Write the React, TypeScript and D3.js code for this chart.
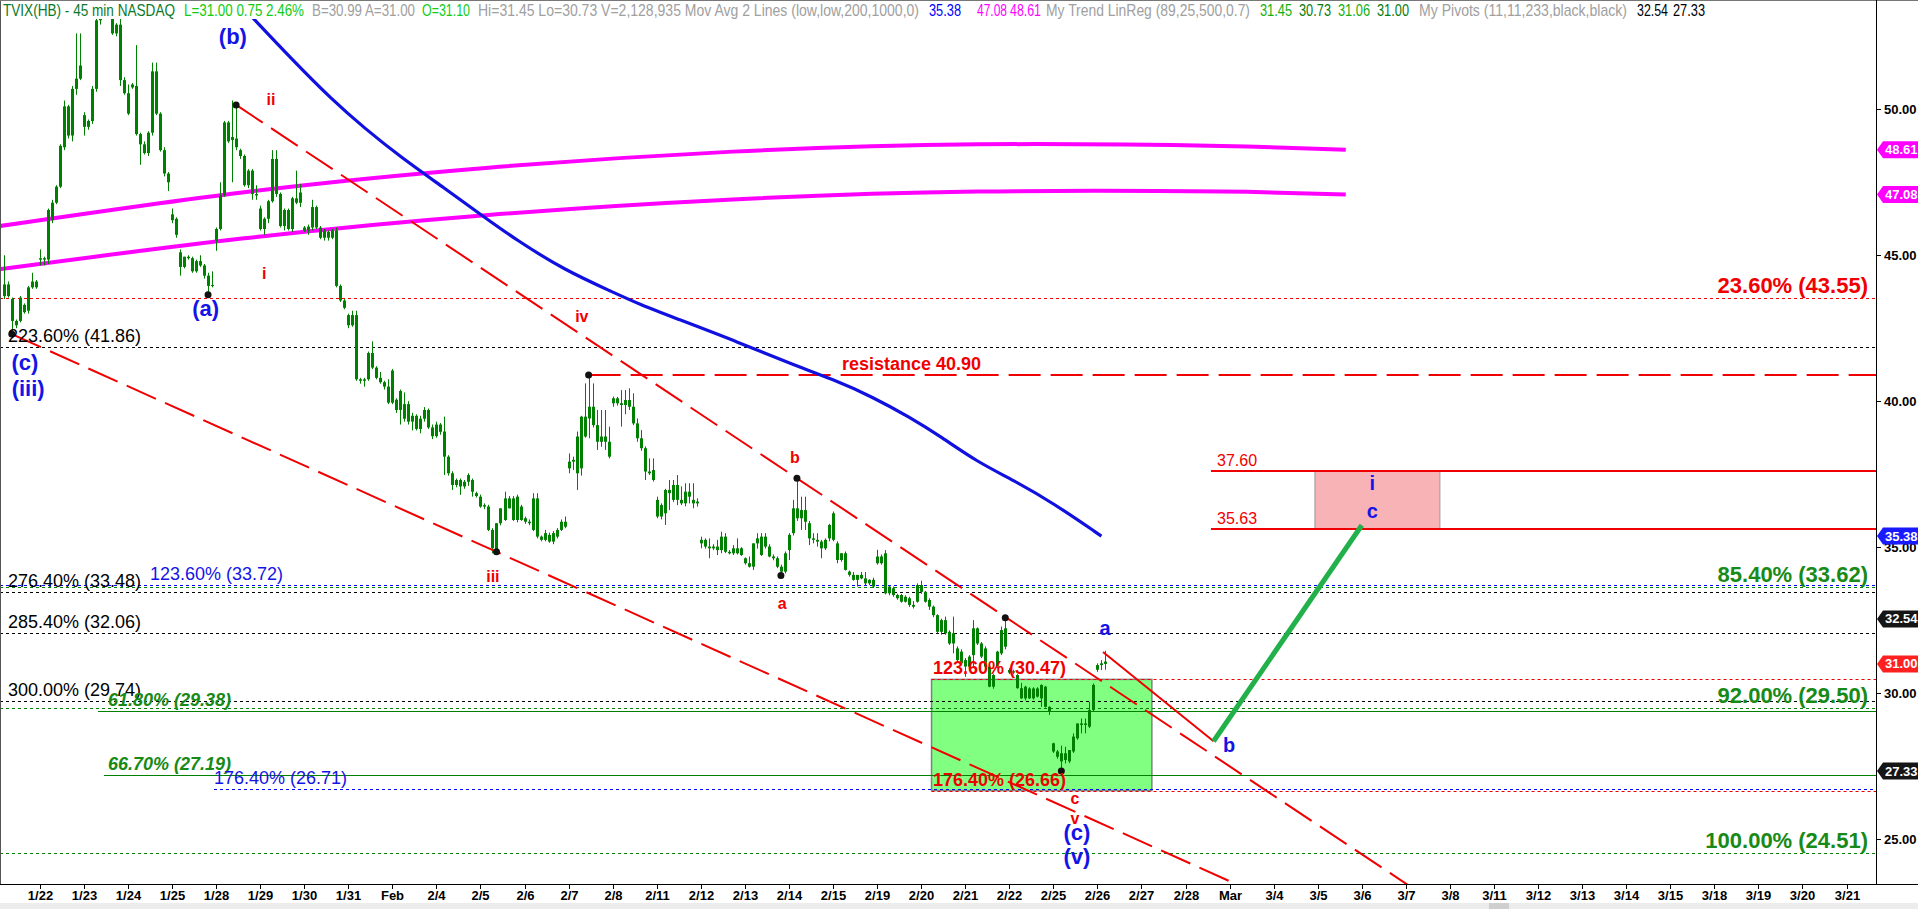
import React from 'react';
import * as d3 from 'd3';

const W = 1918;
const H = 909;

// trading days shown on the time axis (bar 9 is the first 45-min bar of 1/22, 11 bars a day)
const dayLabels = [
  '1/22', '1/23', '1/24', '1/25', '1/28', '1/29', '1/30', '1/31', 'Feb', '2/4', '2/5', '2/6', '2/7', '2/8',
  '2/11', '2/12', '2/13', '2/14', '2/15', '2/19', '2/20', '2/21', '2/22', '2/25', '2/26', '2/27', '2/28',
  'Mar', '3/4', '3/5', '3/6', '3/7', '3/8', '3/11', '3/12', '3/13', '3/14', '3/15', '3/18', '3/19', '3/20', '3/21',
];

// 45 min bars: [open, high, low, close]
const bars: number[][] = [
  // 1/18
  [43.6, 45.0, 43.5, 44.0], [44.0, 44.1, 43.55, 43.6], [43.5, 43.55, 42.3, 42.75], [42.75, 42.8, 42.5, 42.6],
  [42.75, 43.6, 42.7, 43.55], [43.3, 43.35, 43.0, 43.05], [43.1, 43.95, 43.0, 43.9], [43.9, 44.4, 43.85, 44.1],
  [44.1, 44.15, 43.85, 43.9],
  // 1/22
  [44.85, 45.2, 44.65, 44.9], [44.9, 44.95, 44.65, 44.85], [44.85, 46.6, 44.7, 46.55], [46.2, 46.9, 46.1, 46.8],
  [46.8, 47.4, 46.75, 47.35], [47.35, 48.8, 47.3, 48.75], [48.7, 50.3, 48.6, 50.1], [50.1, 50.15, 49.0, 49.1],
  [49.1, 50.8, 48.9, 50.7], [50.7, 52.6, 50.5, 51.05], [51.05, 52.6, 51.0, 51.5],
  // 1/23
  [49.8, 49.9, 49.1, 49.4], [49.4, 49.65, 49.3, 49.6], [49.6, 50.8, 49.5, 50.7], [50.7, 53.1, 50.6, 53.05],
  [53.05, 54.2, 52.9, 54.0], [54.0, 54.6, 53.6, 54.3], [54.3, 54.5, 53.4, 53.6], [53.2, 53.6, 52.55, 52.6],
  [52.6, 52.95, 52.5, 52.9], [52.9, 53.2, 50.8, 51.0], [51.0, 51.1, 50.5, 50.55],
  // 1/24
  [50.55, 50.85, 49.8, 49.85], [50.85, 50.9, 50.7, 50.75], [50.8, 52.2, 49.1, 49.15], [49.15, 49.2, 48.1, 48.8],
  [48.8, 48.9, 48.45, 48.5], [48.5, 49.25, 48.4, 49.2], [49.2, 51.6, 49.1, 51.3], [51.3, 51.6, 49.8, 49.85],
  [49.85, 49.9, 48.55, 48.6], [48.6, 48.7, 47.7, 47.8], [47.8, 47.85, 47.2, 47.5],
  // 1/25
  [46.4, 46.6, 46.1, 46.2], [46.25, 46.3, 45.6, 45.7], [45.1, 45.2, 44.3, 44.6], [44.6, 44.95, 44.55, 44.95],
  [44.95, 45.0, 44.85, 44.9], [44.9, 44.95, 44.4, 44.45], [44.45, 44.85, 44.4, 44.8], [44.8, 45.0, 44.6, 44.65],
  [44.65, 44.7, 44.2, 44.3], [44.3, 44.4, 43.65, 43.95], [43.95, 44.45, 43.9, 43.98],
  // 1/28
  [45.5, 45.95, 45.15, 45.9], [45.9, 47.5, 45.85, 47.05], [47.05, 49.6, 47.0, 49.55], [49.55, 49.6, 48.85, 48.9],
  [48.95, 50.3, 47.5, 49.05], [49.0, 50.15, 48.6, 48.7], [48.6, 48.65, 48.3, 48.4], [48.4, 48.45, 47.35, 47.4],
  [47.4, 47.95, 47.3, 47.9], [47.9, 47.95, 46.9, 47.1], [47.1, 47.4, 46.9, 47.05],
  // 1/29
  [46.6, 46.7, 45.85, 45.9], [45.9, 46.3, 45.7, 46.25], [46.25, 46.9, 46.1, 46.85], [46.85, 48.6, 46.8, 48.3],
  [48.3, 48.6, 47.0, 47.1], [47.1, 47.15, 45.95, 46.0], [46.0, 46.6, 45.85, 46.55], [46.55, 46.6, 45.85, 45.9],
  [45.9, 47.0, 45.8, 46.95], [46.95, 47.9, 46.75, 46.8], [46.8, 47.45, 46.65, 47.15],
  // 1/30
  [45.95, 46.0, 45.8, 45.85], [45.85, 46.05, 45.7, 45.98], [45.95, 46.9, 45.85, 46.65], [46.65, 46.7, 45.9, 45.95],
  [45.95, 46.0, 45.55, 45.6], [45.6, 45.9, 45.5, 45.85], [45.8, 45.85, 45.5, 45.6], [45.6, 45.9, 45.55, 45.85],
  [45.85, 45.95, 43.9, 43.95], [43.95, 44.0, 43.4, 43.45], [43.45, 43.5, 43.15, 43.2],
  // 1/31
  [42.95, 43.0, 42.5, 42.6], [42.6, 43.1, 42.55, 42.95], [42.95, 43.1, 40.7, 40.75], [40.75, 40.8, 40.6, 40.7],
  [40.7, 40.8, 40.5, 40.75], [40.75, 41.7, 40.7, 41.65], [41.65, 42.05, 41.1, 41.15], [41.15, 41.2, 40.75, 40.8],
  [40.8, 41.0, 40.6, 40.65], [40.65, 40.7, 40.4, 40.5], [40.5, 40.75, 39.9, 39.95],
  // Feb 1
  [39.95, 41.1, 39.9, 41.05], [40.05, 40.1, 39.6, 39.7], [39.7, 40.4, 39.2, 40.35], [39.4, 40.3, 39.3, 39.9],
  [39.9, 40.0, 39.2, 39.3], [39.3, 39.6, 39.0, 39.5], [39.5, 39.55, 39.0, 39.05], [39.05, 39.5, 38.9, 39.4],
  [39.4, 39.8, 39.3, 39.7], [39.7, 39.75, 39.05, 39.1], [39.1, 39.2, 38.7, 38.8],
  // 2/4
  [38.8, 39.3, 38.75, 39.2], [39.2, 39.25, 38.85, 38.95], [38.96, 39.47, 37.47, 38.1], [38.1, 38.15, 37.45, 37.53],
  [37.53, 37.6, 36.96, 37.13], [37.13, 37.35, 37.05, 37.3], [37.3, 37.35, 36.79, 37.08], [37.08, 37.3, 37.0, 37.24],
  [37.24, 37.53, 37.1, 37.47], [37.3, 37.35, 36.73, 36.9], [36.85, 36.9, 36.7, 36.75],
  // 2/5
  [36.73, 36.8, 36.35, 36.39], [36.39, 36.5, 36.3, 36.44], [36.39, 36.45, 35.55, 35.59], [35.59, 35.65, 34.79, 34.96],
  [34.9, 35.82, 34.84, 35.82], [35.82, 36.33, 35.75, 36.33], [35.93, 36.9, 35.9, 36.67], [36.67, 36.75, 36.33, 36.33],
  [36.67, 36.75, 35.9, 35.93], [35.93, 36.8, 35.85, 36.73], [36.39, 36.45, 35.9, 35.93],
  // 2/6
  [35.99, 36.05, 35.8, 35.87], [35.87, 35.95, 35.75, 35.82], [35.59, 36.85, 35.55, 36.67], [36.67, 36.85, 35.3, 35.36],
  [35.36, 35.4, 35.2, 35.25], [35.25, 35.59, 35.2, 35.48], [35.42, 35.5, 35.15, 35.19], [35.19, 35.55, 35.1, 35.48],
  [35.36, 35.65, 35.3, 35.59], [35.59, 35.95, 35.55, 35.87], [35.7, 36.05, 35.65, 35.87],
  // 2/7
  [37.7, 38.21, 37.53, 37.93], [37.93, 38.1, 37.64, 37.99], [37.53, 38.96, 36.96, 38.79], [37.7, 39.5, 37.45, 39.47],
  [39.47, 40.61, 38.75, 38.79], [39.41, 40.9, 38.73, 39.81], [39.81, 40.61, 39.1, 39.18], [39.18, 39.7, 38.33, 38.61],
  [38.61, 39.7, 38.44, 38.79], [38.79, 39.7, 38.33, 38.61], [38.61, 39.13, 38.04, 38.1],
  // 2/8
  [39.93, 40.16, 39.81, 40.1], [40.1, 40.15, 39.85, 39.93], [39.93, 40.38, 39.13, 39.87], [39.87, 40.38, 39.55, 40.04],
  [40.04, 40.44, 39.7, 39.81], [39.81, 40.27, 39.18, 39.24], [39.24, 39.41, 38.61, 38.73], [38.73, 39.01, 38.3, 38.39],
  [38.39, 38.45, 37.3, 37.59], [37.59, 38.04, 37.47, 37.53], [37.3, 38.04, 37.25, 37.64],
  // 2/11
  [36.62, 36.73, 35.99, 36.05], [36.05, 36.5, 35.95, 36.44], [36.16, 37.0, 35.76, 36.96], [36.96, 37.3, 36.27, 36.85],
  [36.62, 37.3, 36.55, 37.13], [37.13, 37.47, 36.44, 36.62], [36.62, 37.08, 36.44, 36.5], [36.5, 37.19, 36.4, 36.9],
  [36.9, 37.19, 36.5, 36.73], [36.62, 37.19, 36.33, 36.5], [36.5, 36.67, 36.39, 36.56],
  // 2/12
  [35.25, 35.36, 34.96, 35.13], [35.02, 35.3, 34.95, 35.25], [35.02, 35.3, 34.62, 34.96], [34.96, 35.1, 34.9, 35.02],
  [35.02, 35.25, 34.73, 34.9], [34.9, 35.53, 34.79, 35.36], [35.36, 35.48, 34.8, 34.84], [34.84, 34.9, 34.75, 34.79],
  [34.79, 35.07, 34.73, 34.96], [34.96, 35.3, 34.75, 34.79], [34.96, 35.0, 34.7, 34.73],
  // 2/13
  [34.62, 34.65, 34.4, 34.45], [34.45, 34.68, 34.3, 34.33], [34.33, 35.13, 34.22, 35.13], [35.13, 35.48, 34.95, 35.3],
  [35.36, 35.48, 34.7, 34.73], [35.02, 35.48, 34.95, 35.36], [35.02, 35.1, 34.65, 34.68], [34.68, 34.75, 34.55, 34.62],
  [34.62, 34.68, 34.28, 34.33], [34.33, 34.4, 34.03, 34.16], [34.16, 34.85, 34.1, 34.79],
  // 2/14
  [34.9, 35.48, 34.56, 35.42], [35.48, 36.62, 35.4, 36.33], [36.33, 37.36, 35.9, 35.99], [35.99, 36.73, 35.59, 36.27],
  [36.27, 36.73, 35.59, 35.87], [35.82, 35.9, 35.07, 35.3], [35.3, 35.48, 35.13, 35.25], [35.25, 35.48, 35.02, 35.19],
  [35.19, 35.25, 34.62, 34.96], [34.96, 35.3, 34.9, 35.25], [35.3, 35.8, 35.2, 35.76],
  // 2/15
  [35.25, 36.22, 35.2, 36.16], [35.13, 35.2, 34.45, 34.56], [34.56, 34.8, 34.5, 34.79], [34.79, 34.85, 34.2, 34.22],
  [34.16, 34.2, 33.99, 34.05], [34.05, 34.15, 33.85, 33.88], [33.88, 34.05, 33.65, 34.05], [34.05, 34.15, 33.9, 33.93],
  [33.93, 34.15, 33.7, 33.76], [33.76, 33.9, 33.7, 33.88], [33.88, 33.95, 33.6, 33.65],
  // 2/19
  [34.45, 34.91, 34.4, 34.68], [34.68, 34.75, 34.4, 34.45], [34.79, 34.9, 33.38, 33.42], [33.42, 33.7, 33.35, 33.65],
  [33.59, 33.65, 33.3, 33.36], [33.36, 33.4, 33.2, 33.25], [33.36, 33.4, 33.1, 33.13], [33.13, 33.35, 33.1, 33.3],
  [33.25, 33.3, 32.95, 33.02], [33.02, 33.15, 32.9, 32.96], [33.13, 33.76, 33.1, 33.7],
  // 2/20
  [33.7, 33.85, 33.4, 33.47], [33.47, 33.5, 33.1, 33.13], [33.19, 33.25, 32.85, 32.96], [32.96, 33.0, 32.6, 32.67],
  [32.67, 32.7, 32.05, 32.1], [32.1, 32.55, 32.0, 32.5], [32.5, 32.62, 32.0, 32.05], [32.1, 32.15, 31.65, 31.7],
  [31.7, 32.62, 31.36, 32.05], [31.53, 31.6, 31.1, 31.13], [31.42, 31.5, 30.98, 31.02],
  // 2/21
  [31.13, 31.2, 30.56, 30.91], [30.91, 31.3, 30.85, 31.25], [31.3, 32.5, 30.91, 32.22], [32.22, 32.25, 31.65, 31.7],
  [31.7, 31.75, 31.2, 31.25], [31.53, 31.6, 30.85, 30.91], [30.91, 30.95, 30.2, 30.22], [30.22, 30.65, 30.15, 30.62],
  [30.91, 31.45, 30.85, 31.42], [31.36, 32.28, 31.3, 32.16], [31.59, 32.58, 31.5, 32.22],
  // 2/22
  [30.79, 30.85, 30.65, 30.7], [30.7, 30.8, 30.65, 30.75], [30.62, 30.65, 30.15, 30.17], [30.17, 30.35, 29.8, 29.82],
  [29.82, 30.25, 29.75, 30.22], [30.16, 30.2, 29.8, 29.82], [29.82, 30.2, 29.78, 30.16], [30.16, 30.2, 29.85, 29.88],
  [29.82, 30.3, 29.53, 30.28], [30.22, 30.25, 29.5, 29.53], [29.53, 29.55, 29.25, 29.36],
  // 2/25
  [28.28, 28.3, 27.95, 28.0], [28.0, 28.05, 27.75, 27.82], [27.94, 28.2, 27.33, 27.66], [27.71, 28.16, 27.59, 27.94],
  [27.66, 28.05, 27.6, 28.05], [28.0, 28.62, 27.95, 28.51], [28.45, 28.96, 28.4, 28.96], [28.96, 29.13, 28.62, 28.91],
  [28.91, 29.13, 28.62, 28.96], [28.85, 29.7, 28.8, 29.42], [29.42, 30.33, 29.35, 30.28],
  // 2/26
  [30.96, 31.02, 30.73, 30.8], [30.96, 31.13, 30.79, 31.02], [31.08, 31.45, 30.8, 31.0],
];

// Mov Avg (low, 200) read at a few bars
const maBars = [60, 72, 82, 90, 99, 110, 120, 128, 140, 152, 159, 167, 184, 196, 207, 217, 226, 234, 243, 252, 262, 274];
const maValues = [53.45, 51.7, 50.32, 49.36, 48.37, 47.3, 46.3, 45.52, 44.49, 43.74, 43.3, 42.88, 41.99, 41.3,
  40.75, 40.14, 39.46, 38.78, 37.92, 37.3, 36.51, 35.38];

// My Trend LinReg channel
const trendBars = [-1, 60, 121, 182, 243, 304, 335];
const trendUpper = [46.0, 47.16, 48.0, 48.55, 48.8, 48.74, 48.61];
const trendLower = [44.52, 45.58, 46.38, 46.91, 47.18, 47.18, 47.08];

const priceTicks = [25, 30, 35, 40, 45, 50];
const flagValues = [48.61, 47.08, 35.38, 32.54, 31.0, 27.33];

// pivots (black dots)
const pivotBars = [2, 51, 58, 123, 146, 194, 198, 250, 264];
const pivotValues = [42.3, 43.65, 50.15, 34.84, 40.9, 34.03, 37.36, 32.58, 27.33];

// horizontal levels
const levelValues = [43.55, 41.86, 40.9, 37.6, 35.63, 33.72, 33.62, 33.48, 32.06, 30.47, 29.74, 29.5, 29.38, 27.19, 26.71, 26.66, 24.51];
const levelLabels = ['23.60% (43.55)', '223.60% (41.86)', 'resistance 40.90', '37.60', '35.63', '123.60% (33.72)',
  '85.40% (33.62)', '276.40% (33.48)', '285.40% (32.06)', '123.60% (30.47)', '300.00% (29.74)', '92.00% (29.50)',
  '61.80% (29.38)', '66.70% (27.19)', '176.40% (26.71)', '176.40% (26.66)', '100.00% (24.51)'];

// wave counts: text, bar, price
const waveTexts = ['(b)', '(a)', '(c)', '(iii)', 'ii', 'i', 'iv', 'iii', 'b', 'a', 'c', 'v', '(c)', '(v)', 'a', 'b', 'i', 'c'];
const waveBars = [57.2, 50.4, 5.3, 6.1, 66.7, 65, 144.3, 122.1, 197.5, 194.3, 267.4, 267.4, 267.9, 267.9, 274.9, 305.9, 341.6, 341.6];
const waveValues = [52.48, 43.19, 41.31, 40.45, 50.32, 44.36, 42.89, 33.98, 38.06, 33.06, 26.38, 25.7, 25.22, 24.39, 32.24, 28.23, 37.2, 36.24];

// projection: a -> b (red), b -> c (green)
const projBars = [274.4, 302, 339];
const projValues = [31.41, 28.35, 35.75];

// zones
const greenZoneBars = [231.6, 286.6];
const greenZoneValues = [30.47, 26.66];
const pinkZoneBars = [327.3, 358.5];
const pinkZoneValues = [37.6, 35.63];

const FONT = 'Liberation Sans, Arial, Helvetica, sans-serif';
const RED = '#f00000';
const BLUE = '#1414e6';
const GREEN = '#008000';
const LGREEN = '#178a17';
const MAGENTA = '#ff00ff';

export default function App() {
  const axisX = 1876;
  const axisY = 884;
  const plotTop = 19;

  const x = d3.scaleLinear().domain([0, 1]).range([3.75, 3.75 + 4.006]);
  const y = d3.scaleLinear().domain([25, 50]).range([839.05, 109.3]);

  const line = d3.line<[number, number]>().x((d) => x(d[0])).y((d) => y(d[1]));
  const smooth = d3.line<[number, number]>().x((d) => x(d[0])).y((d) => y(d[1])).curve(d3.curveNatural);
  const maLine = d3.line<[number, number]>().x((d) => x(d[0])).y((d) => y(d[1])).curve(d3.curveBasis);

  // channel through two pivots, extended down to the bottom of the plot
  const channel = (a: number, b: number) => {
    const slope = (pivotValues[b] - pivotValues[a]) / (pivotBars[b] - pivotBars[a]);
    const pEnd = y.invert(axisY + 2);
    const iEnd = pivotBars[a] + (pEnd - pivotValues[a]) / slope;
    return line([[pivotBars[a], pivotValues[a]], [iEnd, pEnd]]) as string;
  };

  // look of each level: stroke, dash, width, start x, label x ('R' = right aligned), label colour, weight, italic
  const look: [string, string, number, number, number | 'R', string, string, boolean][] = [
    [RED, '3,3', 1, 0, 'R', RED, 'bold', false],
    ['#000', '3,3', 1, 0, 8, '#000', 'normal', false],
    [RED, '32,10', 2, x(pivotBars[4]), 842, RED, 'bold', false],
    [RED, '', 2, 1211, 1217, RED, 'normal', false],
    [RED, '', 2, 1211, 1217, RED, 'normal', false],
    ['#0000ff', '3,3', 1, 0, 150, '#1414e6', 'normal', false],
    [GREEN, '3,3', 1, 0, 'R', LGREEN, 'bold', false],
    ['#000', '3,3', 1, 0, 8, '#000', 'normal', false],
    ['#000', '3,3', 1, 0, 8, '#000', 'normal', false],
    [RED, '3,3', 1, x(greenZoneBars[0]), 933, RED, 'bold', false],
    ['#000', '3,3', 1, 0, 8, '#000', 'normal', false],
    [GREEN, '3,3', 1, 0, 'R', LGREEN, 'bold', false],
    [GREEN, '', 1, 98, 108, LGREEN, 'bold', true],
    [GREEN, '', 1, 104, 108, LGREEN, 'bold', true],
    ['#0000ff', '3,3', 1, 214, 214, '#1414e6', 'normal', false],
    [RED, '3,3', 1, x(greenZoneBars[0]), 933, RED, 'bold', false],
    [GREEN, '3,3', 1, 0, 'R', LGREEN, 'bold', false],
  ];

  const flagColors = [MAGENTA, MAGENTA, '#1a1aff', '#151515', '#ff2020', '#151515'];

  const header: [string, number, number, string][] = [
    ['TVIX(HB) - 45 min  NASDAQ', 3, 172, '#0b7a2a'],
    ['L=31.00  0.75  2.46%', 184, 120, '#11cc11'],
    ['B=30.99  A=31.00', 312, 103, '#a0a0a0'],
    ['O=31.10', 422, 48, '#11cc11'],
    ['Hi=31.45  Lo=30.73  V=2,128,935  Mov Avg 2 Lines (low,low,200,1000,0)', 478, 441, '#a0a0a0'],
    ['35.38', 929, 32, '#0000ff'],
    ['47.08', 977, 30, MAGENTA],
    ['48.61', 1010, 31, MAGENTA],
    ['My Trend  LinReg (89,25,500,0.7)', 1046, 204, '#a0a0a0'],
    ['31.45', 1260, 32, '#12b012'],
    ['30.73', 1299, 32, '#0a7a0a'],
    ['31.06', 1338, 32, '#12b012'],
    ['31.00', 1377, 32, '#0a7a0a'],
    ['My Pivots (11,11,233,black,black)', 1419, 208, '#a0a0a0'],
    ['32.54', 1637, 31, '#000'],
    ['27.33', 1673, 32, '#000'],
  ];

  const waveStyle = (k: number) => {
    if (k <= 3 || k === 12 || k === 13) return { fill: BLUE, size: 22 };
    if (k >= 14) return { fill: BLUE, size: 20 };
    return { fill: RED, size: 16 };
  };

  const labelSize = (k: number) => {
    if (k === 3 || k === 4) return 16;
    if (look[k][4] === 'R') return 22;
    return 18;
  };

  return (
    <svg width={W} height={H} style={{ position: 'absolute', left: 0, top: 0, background: '#fff' }} fontFamily={FONT}>
      <defs>
        <clipPath id="plot">
          <rect x={1} y={plotTop} width={axisX - 1} height={axisY - plotTop} />
        </clipPath>
      </defs>
      <rect x={0} y={0} width={W} height={H} fill="#fff" />

      <g clipPath="url(#plot)">
        {/* zones */}
        <rect x={x(greenZoneBars[0])} y={y(greenZoneValues[0])} width={x(greenZoneBars[1]) - x(greenZoneBars[0])}
          height={y(greenZoneValues[1]) - y(greenZoneValues[0])} fill="#80ff80" stroke="#808080" strokeWidth={1.5} />
        <rect x={x(pinkZoneBars[0])} y={y(pinkZoneValues[0])} width={x(pinkZoneBars[1]) - x(pinkZoneBars[0])}
          height={y(pinkZoneValues[1]) - y(pinkZoneValues[0])} fill="#f7b3b6" stroke="#9a9a9a" strokeWidth={1} />

        {/* levels */}
        {levelValues.map((v, k) => {
          const [stroke, dash, sw, fx] = look[k];
          const yy = Math.round(y(v)) + (sw === 1 ? 0.5 : 0);
          return <line key={'l' + k} x1={fx} x2={axisX} y1={yy} y2={yy} stroke={stroke} strokeWidth={sw}
            strokeDasharray={dash || undefined} />;
        })}

        {/* trend channel and moving average */}
        <path d={smooth(trendBars.map((b, k) => [b, trendUpper[k]] as [number, number])) as string} fill="none" stroke={MAGENTA} strokeWidth={4} />
        <path d={smooth(trendBars.map((b, k) => [b, trendLower[k]] as [number, number])) as string} fill="none" stroke={MAGENTA} strokeWidth={4} />
        <path d={maLine(maBars.map((b, k) => [b, maValues[k]] as [number, number])) as string} fill="none" stroke="#1010e0" strokeWidth={3.2} />

        {/* candles */}
        {bars.map((b, i) => {
          const [o, h, l, c] = b;
          const cx = Math.round(x(i));
          const top = y(Math.max(o, c));
          const bh = Math.max(1, y(Math.min(o, c)) - top);
          return (
            <g key={'c' + i}>
              <line x1={cx + 0.5} x2={cx + 0.5} y1={y(h)} y2={y(l)} stroke={GREEN} strokeWidth={1} />
              <rect x={cx - 1} y={top} width={3} height={bh} fill={GREEN} />
            </g>
          );
        })}

        {/* channels: ii -> b (upper), (c)(iii) -> iii (lower) */}
        <path d={channel(2, 6)} stroke={RED} strokeWidth={2} strokeDasharray="32,10" fill="none" />
        <path d={channel(0, 3)} stroke={RED} strokeWidth={2} strokeDasharray="32,10" fill="none" />

        {/* projections */}
        <path d={line([[projBars[0], projValues[0]], [projBars[1], projValues[1]]]) as string} stroke={RED} strokeWidth={2} fill="none" />
        <path d={line([[projBars[1], projValues[1]], [projBars[2], projValues[2]]]) as string} stroke="#22b04a" strokeWidth={5} fill="none" />

        {/* pivots */}
        {pivotBars.map((b, k) => (
          <circle key={'p' + k} cx={x(b)} cy={y(pivotValues[k])} r={3.5} fill="#111" />
        ))}
      </g>

      {/* level labels */}
      {levelValues.map((v, k) => {
        const [, , , , lx, col, weight, italic] = look[k];
        const right = lx === 'R';
        return (
          <text key={'t' + k} x={right ? 1868 : lx} y={Math.round(y(v)) - 5} textAnchor={right ? 'end' : 'start'}
            fill={col} fontWeight={weight} fontStyle={italic ? 'italic' : 'normal'} fontSize={labelSize(k)}>
            {levelLabels[k]}
          </text>
        );
      })}

      {/* wave labels */}
      {waveTexts.map((t, k) => {
        const s = waveStyle(k);
        return (
          <text key={'w' + k} x={x(waveBars[k])} y={y(waveValues[k])} textAnchor="middle" dominantBaseline="central"
            fill={s.fill} fontWeight="bold" fontSize={s.size}>{t}</text>
        );
      })}

      {/* frame */}
      <line x1={0.5} x2={0.5} y1={0} y2={axisY} stroke="#555" />
      <line x1={0} x2={W} y1={0.5} y2={0.5} stroke="#777" />
      <line x1={axisX + 0.5} x2={axisX + 0.5} y1={0} y2={axisY} stroke="#000" />
      <line x1={0} x2={W} y1={axisY + 0.5} y2={axisY + 0.5} stroke="#000" />

      {/* price axis */}
      {priceTicks.map((p) => (
        <g key={'pt' + p}>
          <line x1={axisX} x2={axisX + 5} y1={Math.round(y(p)) + 0.5} y2={Math.round(y(p)) + 0.5} stroke="#000" />
          <text x={axisX + 8} y={y(p)} dominantBaseline="central" fontSize={13} fontWeight="bold" fill="#000">{p.toFixed(2)}</text>
        </g>
      ))}
      {flagValues.map((v, k) => {
        const yy = y(v);
        return (
          <g key={'f' + k}>
            <polygon points={`${axisX + 1},${yy} ${axisX + 7},${yy - 8.5} ${W},${yy - 8.5} ${W},${yy + 8.5} ${axisX + 7},${yy + 8.5}`} fill={flagColors[k]} />
            <text x={axisX + 9} y={yy} dominantBaseline="central" fontSize={13} fontWeight="bold" fill="#fff">{v.toFixed(2)}</text>
          </g>
        );
      })}

      {/* time axis */}
      {dayLabels.map((d, k) => {
        const tx = Math.round(x(9 + 11 * k)) + 0.5;
        return (
          <g key={'d' + k}>
            <line x1={tx} x2={tx} y1={axisY} y2={axisY + 5} stroke="#000" />
            <text x={tx} y={900} textAnchor="middle" fontSize={13} fontWeight="bold" fill="#000">{d}</text>
          </g>
        );
      })}
      <rect x={0} y={903} width={W} height={6} fill="#ececec" />
      <rect x={1489} y={903} width={20} height={6} fill="#cfcfcf" />

      {/* header */}
      {header.map(([t, hx, len, col], k) => (
        <text key={'h' + k} x={hx} y={16} fontSize={17} fill={col} textLength={len} lengthAdjust="spacingAndGlyphs">{t}</text>
      ))}
    </svg>
  );
}
